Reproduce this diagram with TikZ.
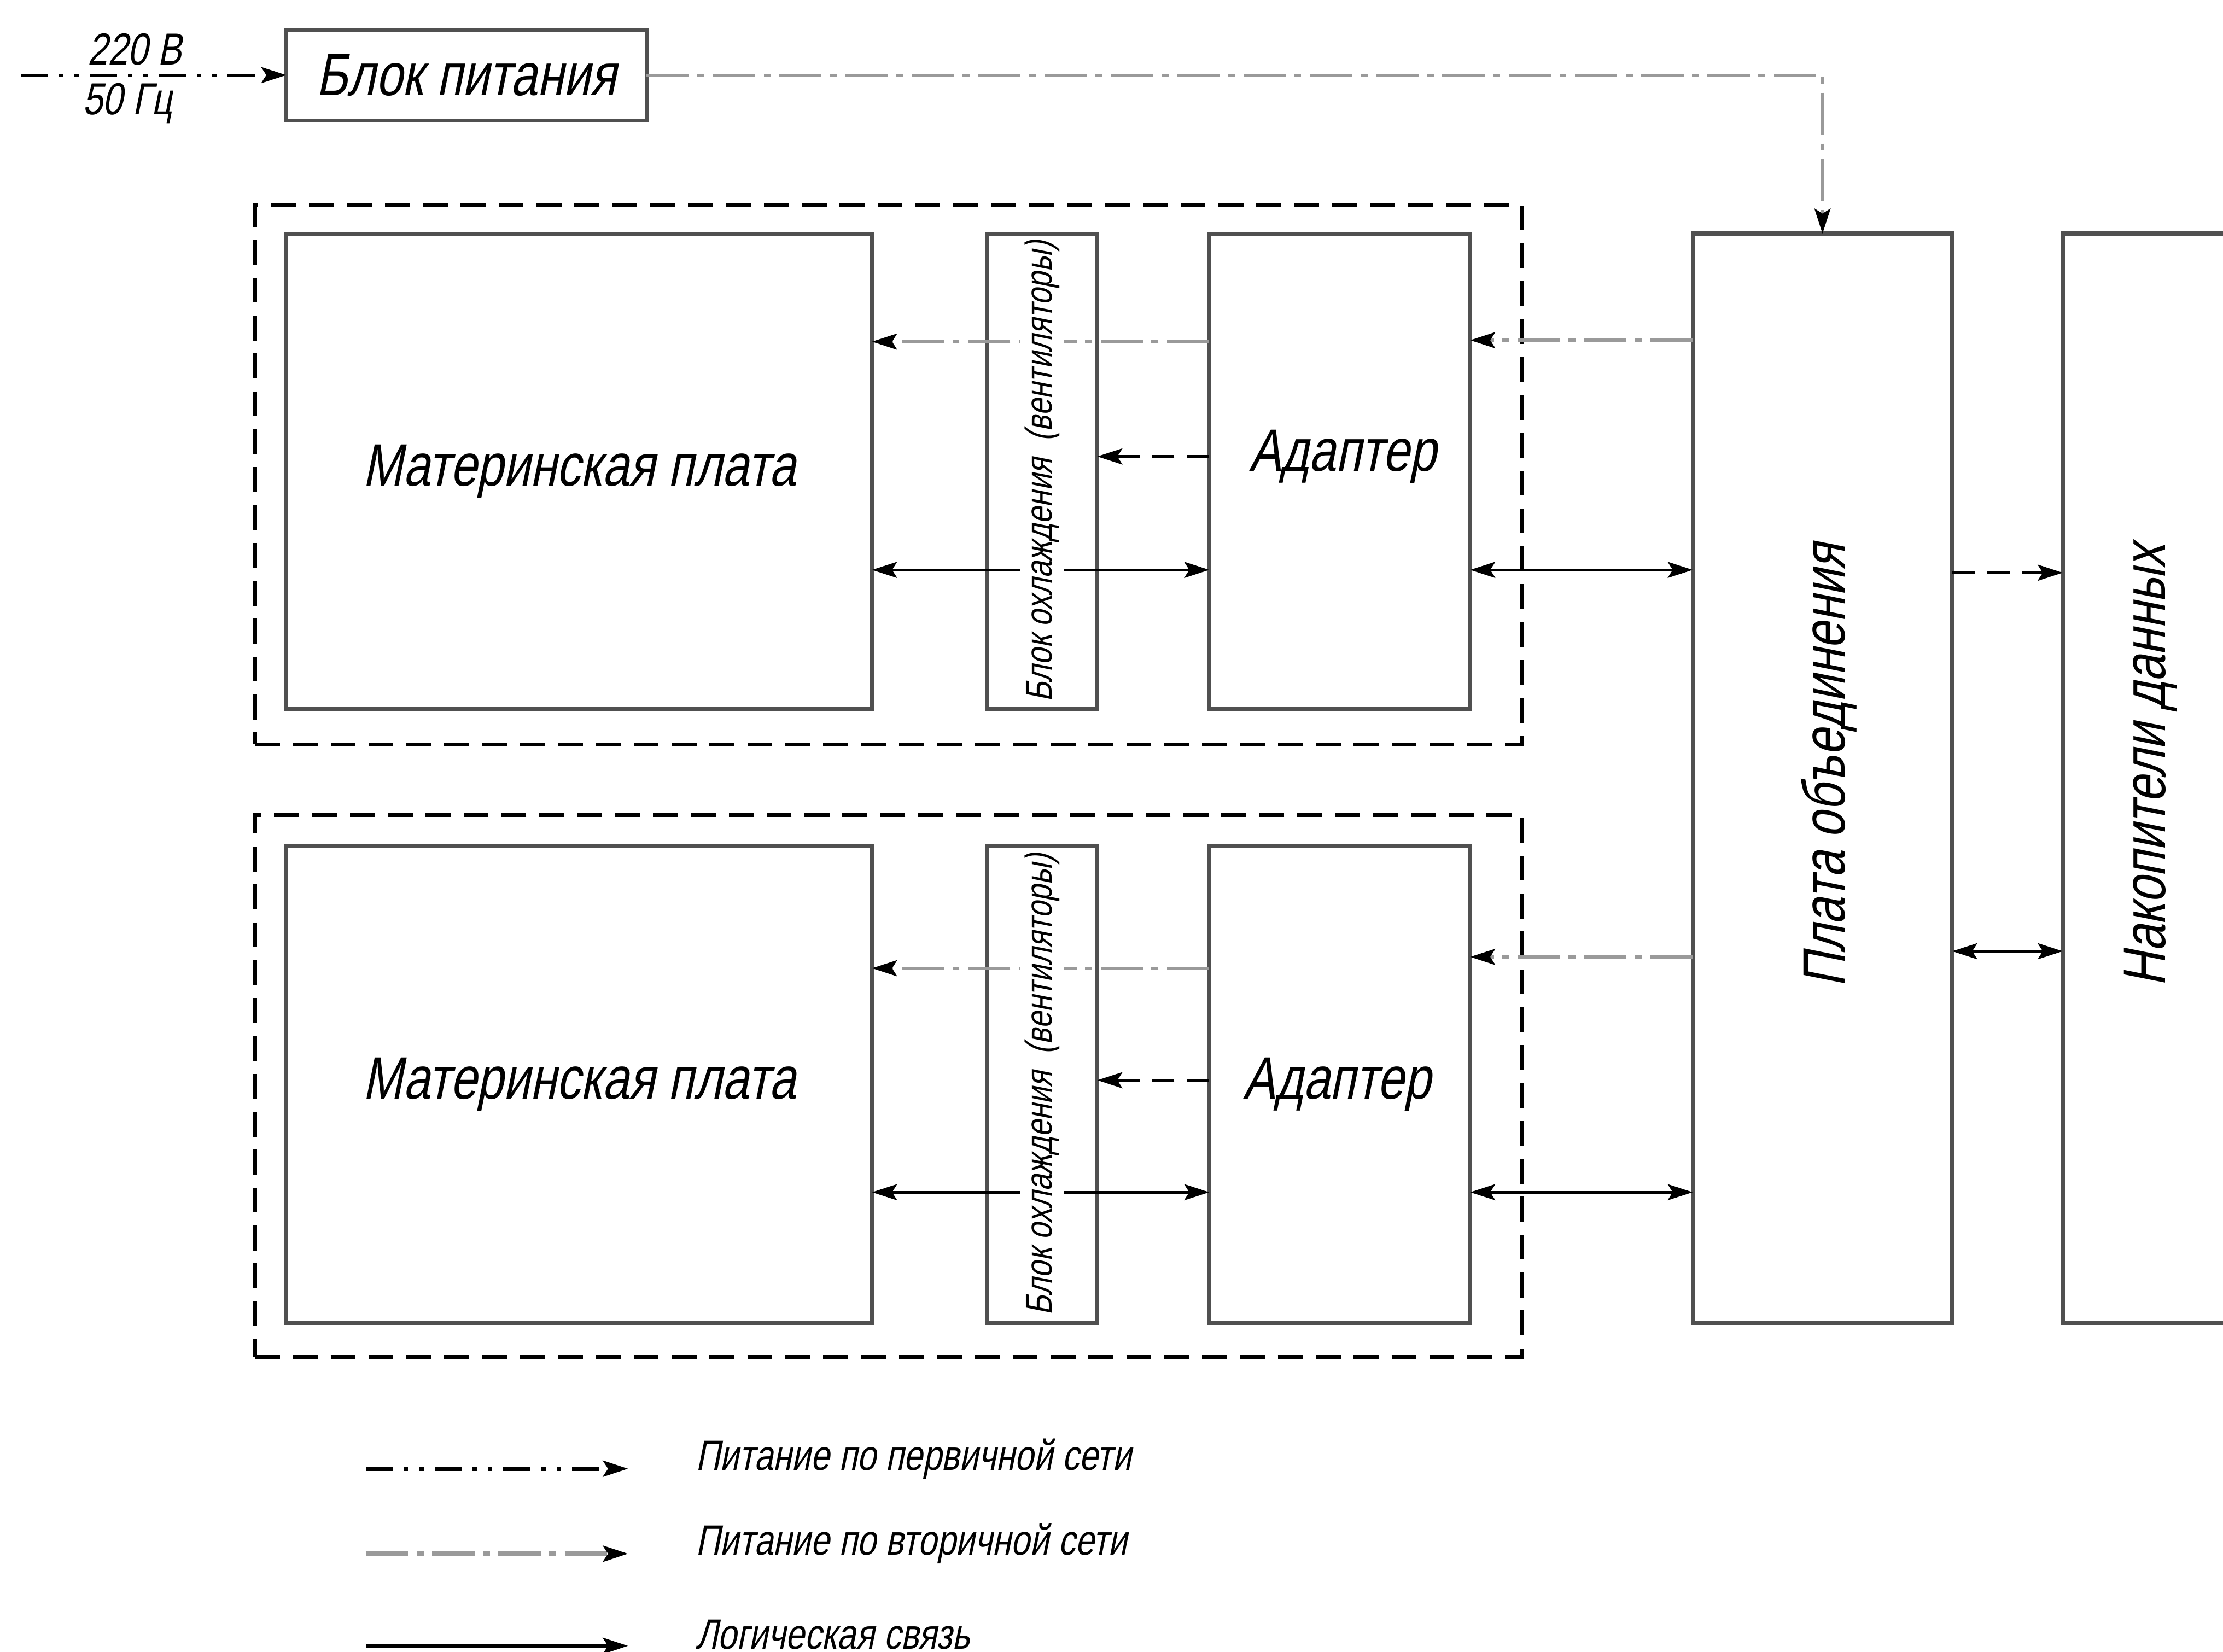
\documentclass[tikz,border=0pt]{standalone}
\usepackage{fontspec}
\setmainfont{Liberation Sans}[FakeSlant=0.2,FakeStretch=0.8]
\usetikzlibrary{arrows.meta}
\definecolor{boxgray}{HTML}{505050}
\definecolor{secgray}{HTML}{9A9A9A}
\newcommand\fmain{\fontsize{12}{14}\selectfont}
\newcommand\fsmall{\fontsize{7.5}{9}\selectfont}
\newcommand\fleg{\fontsize{8.5}{10}\selectfont}
\newcommand\fnote{\fontsize{9}{11}\selectfont}
\begin{document}
\begin{tikzpicture}[x=0.01cm,y=-0.01cm,
  tipA/.tip={Stealth[length=5pt,width=3.2pt,inset=1pt,color=black]},
  box/.style={draw=boxgray,line width=0.8pt,inner sep=0pt,outer sep=0pt,font=\fmain},
  grp/.style={draw=black,line width=0.8pt,dash pattern=on 5pt off 2.6pt,inner sep=0pt,outer sep=0pt},
  lg/.style={draw=black,line width=0.5pt},
  sec/.style={draw=secgray,line width=0.6pt,dash pattern=on 8.5pt off 1.7pt on 1.4pt off 1.7pt},
  pri/.style={draw=black,line width=0.6pt,dash pattern=on 5.4pt off 2.2pt on 0.9pt off 2.2pt on 0.9pt off 2.2pt},
  dsh/.style={draw=black,line width=0.6pt,dash pattern=on 4.5pt off 2.5pt},
  vtxt/.style={rotate=90,font=\fmain,inner sep=1pt},
  ctxt/.style={rotate=90,font=\fsmall,fill=white,inner sep=0.8pt},
  leg/.style={anchor=west,font=\fleg,inner sep=0pt}]
\useasboundingbox (0,0) rectangle (1568,1165);
\clip (0,0) rectangle (1568,1165);

% groups
\node[grp,minimum width=8.93cm,minimum height=3.80cm] (grp1) at (626.5,335) {};
\node[grp,minimum width=8.93cm,minimum height=3.82cm] (grp2) at (626.5,766) {};

% blocks
\node[box,minimum width=2.54cm,minimum height=0.64cm] (psu) at (329,53) {Блок питания};
\node[box,minimum width=4.13cm,minimum height=3.35cm] (mb1) at (408.5,332.5) {Материнская плата};
\node[box,minimum width=0.78cm,minimum height=3.35cm] (cool1) at (735,332.5) {};
\node[box,minimum width=1.84cm,minimum height=3.35cm] (ad1) at (945,332.5) {};
\node[box,minimum width=4.13cm,minimum height=3.36cm] (mb2) at (408.5,765) {Материнская плата};
\node[box,minimum width=0.78cm,minimum height=3.36cm] (cool2) at (735,765) {};
\node[box,minimum width=1.84cm,minimum height=3.36cm] (ad2) at (945,765) {};
\node[box,minimum width=1.83cm,minimum height=7.68cm] (hub) at (1285.5,549) {};
\node[box,minimum width=1.25cm,minimum height=7.68cm] (stor) at (1517.5,549) {};

\node[font=\fmain] (ad1t) at (947,322) {Адаптер};
\node[font=\fmain] (ad2t) at (943,765) {Адаптер};
\node[vtxt] (hubt) at (1290,540) {Плата объединения};
\node[vtxt] (stort) at (1517,540) {Накопители данных};

% source
\coordinate (src) at (15,53);
\node[font=\fnote] (v220) at (95,35) {220 В};
\node[font=\fnote] (f50) at (90,73) {50 Гц};
\draw[pri,-tipA] (src) -- (psu.west);
\draw[sec,-tipA] (psu.east) -| (hub.north);

% upper module
\draw[sec,-tipA] (ad1.west |- 0,241) -- (mb1.east |- 0,241);
\draw[dsh,-tipA] (ad1.west |- 0,322) -- (cool1.east |- 0,322);
\draw[lg,tipA-tipA] (mb1.east |- 0,402) -- (ad1.west |- 0,402);
\draw[sec,-tipA] (hub.west |- 0,240) -- (ad1.east |- 0,240);
\draw[lg,tipA-tipA] (ad1.east |- 0,402) -- (hub.west |- 0,402);

% lower module
\draw[sec,-tipA] (ad2.west |- 0,683) -- (mb2.east |- 0,683);
\draw[dsh,-tipA] (ad2.west |- 0,762) -- (cool2.east |- 0,762);
\draw[lg,tipA-tipA] (mb2.east |- 0,841) -- (ad2.west |- 0,841);
\draw[sec,-tipA] (hub.west |- 0,675) -- (ad2.east |- 0,675);
\draw[lg,tipA-tipA] (ad2.east |- 0,841) -- (hub.west |- 0,841);

% hub to storage
\draw[dsh,-tipA] (hub.east |- 0,404) -- (stor.west |- 0,404);
\draw[lg,tipA-tipA] (hub.east |- 0,671) -- (stor.west |- 0,671);

% cooler labels (on top of crossing lines)
\node[ctxt] (c1t) at (cool1) {Блок охлаждения\ \ (вентиляторы)};
\node[ctxt] (c2t) at (cool2) {Блок охлаждения\ \ (вентиляторы)};

% legend
\coordinate (l1a) at (258,1036); \coordinate (l1b) at (443,1036);
\coordinate (l2a) at (258,1096); \coordinate (l2b) at (443,1096);
\coordinate (l3a) at (258,1161); \coordinate (l3b) at (443,1161);
\draw[pri,line width=0.9pt,-tipA] (l1a) -- (l1b);
\draw[sec,line width=0.9pt,-tipA] (l2a) -- (l2b);
\draw[lg,line width=0.9pt,-tipA] (l3a) -- (l3b);
\node[leg] (lt1) at (490,1029) {Питание по первичной сети};
\node[leg] (lt2) at (490,1089) {Питание по вторичной сети};
\node[leg] (lt3) at (490,1153) {Логическая связь};
\end{tikzpicture}
\end{document}
